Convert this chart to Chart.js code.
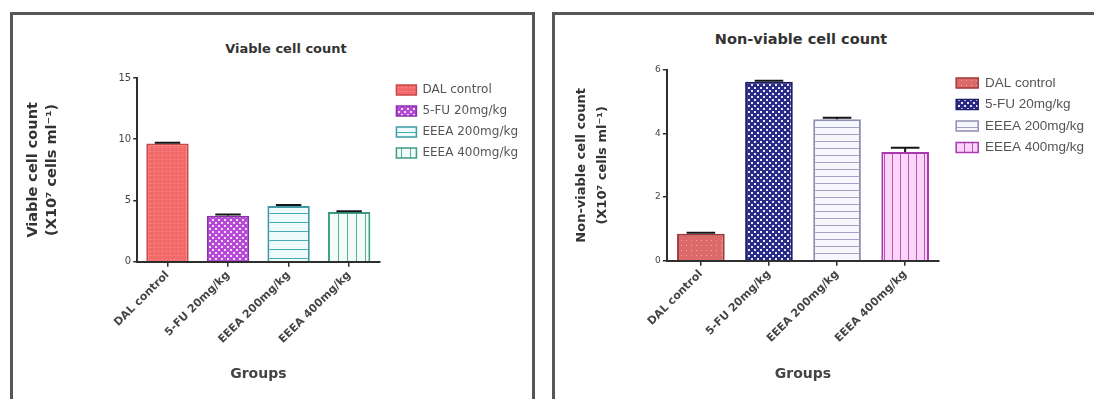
<!DOCTYPE html>
<html>
<head>
<meta charset="utf-8">
<script src="https://cdn.jsdelivr.net/npm/chart.js@4"></script>
<style>
  body { margin:0; background:#fff; width:1094px; height:399px; overflow:hidden; position:relative; font-family:"DejaVu Sans", sans-serif; }
  .panel { position:absolute; top:12px; height:400px; border:3px solid #575757; box-sizing:border-box; }
  .ttl { position:absolute; font-weight:bold; color:#333; white-space:nowrap; transform:translateX(-50%); }
  canvas { position:absolute; }
</style>
</head>
<body>
<div class="panel" style="left:10px;width:525px"></div>
<div class="panel" style="left:552px;width:560px"></div>
<div class="ttl" style="left:286px;top:41px;font-size:13px">Viable cell count</div>
<div class="ttl" style="left:801px;top:31px;font-size:14.5px">Non-viable cell count</div>
<canvas id="chartViable" width="518" height="384" style="left:14px;top:15px"></canvas>
<canvas id="chartNonViable" width="538" height="384" style="left:556px;top:15px"></canvas>

<script>
// ── veri ─────────────────────────────
const groups       = ['DAL control', '5-FU 20mg/kg', 'EEEA 200mg/kg', 'EEEA 400mg/kg'];
const viable       = [9.65, 3.75, 4.55, 4.05];
const viableErr    = [0.06, 0.10, 0.08, 0.07];
const viableTicks  = [0, 5, 10, 15];
const nonViable    = [0.85, 5.63, 4.45, 3.42];
const nonViableErr = [0.03, 0.03, 0.05, 0.13];
const nonViableTicks = [0, 2, 4, 6];

// small repeating fills like the GraphPad hatch styles
function pattern(bg, fg, kind, size) {
  const c = document.createElement('canvas');
  c.width = c.height = size;
  const x = c.getContext('2d');
  x.fillStyle = bg; x.fillRect(0, 0, size, size);
  x.fillStyle = fg;
  if (kind === 'dots')  { x.fillRect(0, 0, 1, 1); }
  if (kind === 'check') { x.fillRect(0, 0, 2, 2); x.fillRect(size / 2, size / 2, 2, 2); }
  if (kind === 'hline') { x.fillRect(0, 0, size, 1); }
  if (kind === 'vline') { x.fillRect(0, 0, 1, size); }
  return x.createPattern(c, 'repeat');
}

const errorBars = {
  id: 'errorBars',
  afterDatasetsDraw(chart, args, opts) {
    const { ctx, scales: { y } } = chart;
    const ds = chart.data.datasets[0];
    ctx.save();
    ctx.strokeStyle = '#151515'; ctx.lineWidth = 2;
    chart.getDatasetMeta(0).data.forEach((bar, i) => {
      const top = y.getPixelForValue(ds.data[i] + opts.errors[i]);
      const half = bar.width * 0.3;
      ctx.beginPath();
      ctx.moveTo(bar.x, bar.y); ctx.lineTo(bar.x, top);
      ctx.moveTo(bar.x - half, top); ctx.lineTo(bar.x + half, top);
      ctx.stroke();
    });
    ctx.restore();
  }
};

// legend sits a little further from the plot than Chart.js puts it
const legendShift = {
  id: 'legendShift',
  afterLayout(chart, args, opts) {
    const l = chart.legend;
    l.left += opts.dx; l.right += opts.dx;
    l.top += opts.dy; l.bottom += opts.dy;
  }
};

function makeChart(id, values, errors, ticks, yTitle, fills, borders, cfg) {
  const axisCol = '#2e2e2e';
  return new Chart(document.getElementById(id), {
    type: 'bar',
    data: {
      labels: groups,
      datasets: [{
        data: values,
        backgroundColor: fills,
        borderColor: borders,
        borderWidth: 2,
        barPercentage: 0.7,
        categoryPercentage: 1.0
      }]
    },
    options: {
      responsive: false, animation: false,
      layout: { padding: cfg.pad },
      plugins: {
        title: { display: false },
        tooltip: { enabled: false },
        legend: {
          position: 'right', align: 'start', maxWidth: 220,
          labels: {
            boxWidth: cfg.boxW, boxHeight: 10, padding: cfg.legendPad,
            color: '#555',
            font: cfg.legendFont,
            generateLabels: chart => chart.data.labels.map((t, i) => ({
              text: t, fillStyle: fills[i], strokeStyle: borders[i], lineWidth: 1.5,
              fontColor: '#555', index: i
            }))
          }
        },
        errorBars: { errors },
        legendShift: { dx: cfg.legendDx, dy: cfg.legendDy }
      },
      scales: {
        x: {
          grid: { drawOnChartArea: false, drawTicks: true, tickLength: 5, offset: false, color: axisCol, lineWidth: 1.5 },
          border: { display: true, color: axisCol, width: 2 },
          ticks: {
            color: '#444', minRotation: 45, maxRotation: 45, padding: 2,
            font: { family: 'DejaVu Sans', size: 11, weight: 'bold' }
          },
          title: {
            display: true, text: 'Groups', color: '#444',
            font: { family: 'DejaVu Sans', size: 14, weight: 'bold' },
            padding: { top: cfg.groupsPad, bottom: 0 }
          }
        },
        y: {
          min: 0, max: ticks[ticks.length - 1],
          afterBuildTicks: axis => { axis.ticks = ticks.map(v => ({ value: v })); },
          grid: { drawOnChartArea: false, drawTicks: true, tickLength: 4, color: axisCol, lineWidth: 1.5 },
          border: { display: true, color: axisCol, width: 2 },
          ticks: { color: '#444', padding: 2, font: { family: 'DejaVu Sans', size: cfg.yTickSize } },
          title: {
            display: true, text: yTitle, color: '#333',
            font: { family: 'DejaVu Sans', size: cfg.yTitleSize, weight: 'bold', lineHeight: cfg.yTitleLh },
            padding: { top: 0, bottom: cfg.yTitlePad }
          }
        }
      }
    },
    plugins: [errorBars, legendShift]
  });
}

makeChart('chartViable', viable, viableErr, viableTicks,
  ['Viable cell count', '(X10\u2077 cells ml\u207B\u00B9)'],
  [pattern('#f36a6a', '#f79c9c', 'dots', 4),
   pattern('#b64ad6', '#f2dcf8', 'check', 6),
   pattern('#eefbfb', '#49aab5', 'hline', 9),
   pattern('#f2fbf7', '#55b09a', 'vline', 9)],
  ['#c84848', '#8b2fae', '#3f9aa5', '#3f9c84'],
  { pad: { left: 9.5, top: 63, right: 12, bottom: 16 }, boxW: 20, legendPad: 9,
    legendFont: { family: 'DejaVu Sans', size: 12 },
    legendDx: 8, legendDy: -3, groupsPad: 18, yTickSize: 10,
    yTitleSize: 14.5, yTitleLh: 1.31, yTitlePad: 55 });

makeChart('chartNonViable', nonViable, nonViableErr, nonViableTicks,
  ['Non-viable cell count', '(X10\u2077 cells ml\u207B\u00B9)'],
  [pattern('#dc6a6a', '#eca2a2', 'dots', 5),
   pattern('#2a2a88', '#e8e8f8', 'check', 6),
   pattern('#f6f6fc', '#a0a0c8', 'hline', 7),
   pattern('#fcd4fa', '#b455bc', 'vline', 8)],
  ['#a03838', '#1e1e66', '#8e8eae', '#a83aae'],
  { pad: { left: 15.5, top: 55, right: 9, bottom: 16 }, boxW: 22, legendPad: 8,
    legendFont: { family: 'Liberation Sans', size: 13.5 },
    legendDx: 9, legendDy: -1.75, groupsPad: 19, yTickSize: 9,
    yTitleSize: 13, yTitleLh: 1.6, yTitlePad: 40 });
</script>
</body>
</html>
